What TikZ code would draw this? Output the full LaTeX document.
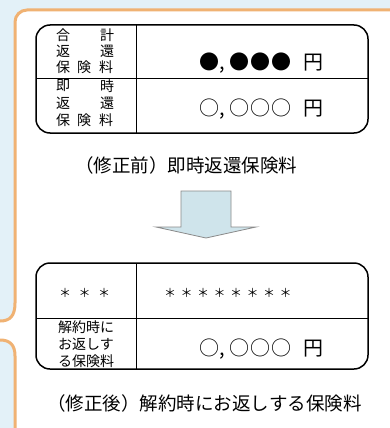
\documentclass[tikz,border=0pt]{standalone}
\usepackage{fontspec}
\newfontfamily\jp{Noto Sans CJK JP}
\definecolor{bgblue}{HTML}{E3F1F8}
\definecolor{frameorange}{HTML}{F0B273}
\definecolor{arrowfill}{HTML}{CFE4EB}
\definecolor{arrowline}{HTML}{8A8A8A}
\begin{document}
\begin{tikzpicture}[x=1pt,y=-1pt,
  lbl/.style={font=\jp\fontsize{14}{14}\selectfont, inner sep=0pt},
  val/.style={font=\jp\fontsize{20}{20}\selectfont, inner sep=0pt, anchor=base},
  captext/.style={font=\jp\fontsize{18.5}{18.5}\selectfont, inner sep=0pt},
  startext/.style={font=\jp\fontsize{12}{12}\selectfont, inner sep=0pt},
  tbl/.style={line width=1.5pt, rounded corners=14pt},
  rulel/.style={line width=1pt},
  frameline/.style={draw=frameorange, line width=3pt}]
\useasboundingbox (0,0) rectangle (390,428);
\fill[bgblue] (0,0) rectangle (390,428);
% white panel
\fill[white] (400,10) -- (27,10) .. controls (20.4,10) and (15,15.4) .. (15,22)
  -- (15,303) .. controls (15,316) and (10,321) .. (0,321) -- (-5,321)
  -- (-5,340) -- (0,340) .. controls (10,340) and (15,345) .. (15,356)
  -- (15,435) -- (400,435) -- cycle;
\draw[frameline] (400,10) -- (27,10) .. controls (20.4,10) and (15,15.4) .. (15,22)
  -- (15,303) .. controls (15,316) and (10,321) .. (0,321) -- (-5,321);
\draw[frameline] (-5,340) -- (0,340) .. controls (10,340) and (15,345) .. (15,356) -- (15,435);
% table 1
\draw[tbl] (36,25) rectangle (368,133);
\draw[rulel] (136,25) -- (136,133);
\draw[rulel] (36,78) -- (368,78);
\node[lbl] (a1) at (63,35) {合};
\node[lbl] (a2) at (107,35) {計};
\node[lbl] (a3) at (63,51) {返};
\node[lbl] (a4) at (107,51) {還};
\node[lbl] (a5) at (63,67) {保};
\node[lbl] (a6) at (84,67) {険};
\node[lbl] (a7) at (106,67) {料};
\node[lbl] (b1) at (63,86) {即};
\node[lbl] (b2) at (107,86) {時};
\node[lbl] (b3) at (63,103) {返};
\node[lbl] (b4) at (107,103) {還};
\node[lbl] (b5) at (63,120) {保};
\node[lbl] (b6) at (84,120) {険};
\node[lbl] (b7) at (106,120) {料};
% values (baseline positions)
\node[val] (v1a) at (209,70) {●};
\node[val] (v1c) at (222,70) {,};
\node[val] (v1b) at (239,70) {●};
\node[val] (v1d) at (260,70) {●};
\node[val] (v1e) at (281,70) {●};
\node[val] (y1) at (313,70) {円};
\node[val] (v2a) at (209,115) {○};
\node[val] (v2c) at (222,115) {,};
\node[val] (v2b) at (239,115) {○};
\node[val] (v2d) at (260,115) {○};
\node[val] (v2e) at (281,115) {○};
\node[val] (y2) at (313,115) {円};
\node[captext] (c1) at (186,165) {（修正前）即時返還保険料};
% arrow
\draw[draw=arrowline, fill=arrowfill, line width=0.8pt, line join=miter]
  (181,191) -- (231,191) -- (231,227) -- (256,227) -- (206,238) -- (156,227) -- (181,227) -- cycle;
% table 2
\draw[tbl] (36,263) rectangle (368,369);
\draw[rulel] (136,263) -- (136,369);
\draw[rulel] (36,318) -- (368,318);
\foreach \i in {0,1,2} \node[startext] (s\i) at (65+19.5*\i,293) {＊};
\foreach \i in {0,...,7} \node[startext] (t\i) at (170+16.5*\i,293) {＊};
\node[lbl] (d1) at (86,327) {解約時に};
\node[lbl] (d2) at (86,344) {お返しす};
\node[lbl] (d3) at (86,361) {る保険料};
\node[val] (v3a) at (209,355) {○};
\node[val] (v3c) at (222,355) {,};
\node[val] (v3b) at (239,355) {○};
\node[val] (v3d) at (260,355) {○};
\node[val] (v3e) at (281,355) {○};
\node[val] (y3) at (313,355) {円};
\node[captext] (c2) at (204.5,403) {（修正後）解約時にお返しする保険料};
\end{tikzpicture}
\end{document}
